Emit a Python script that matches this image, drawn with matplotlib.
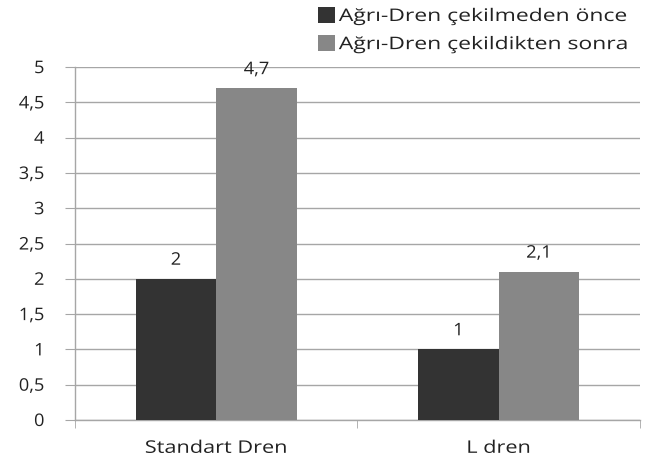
import numpy as np
import matplotlib.pyplot as plt
from matplotlib.ticker import FixedLocator
from matplotlib.patheffects import AbstractPathEffect
from matplotlib.transforms import Affine2D

plt.rcParams['font.family'] = ['Open Sans', 'DejaVu Sans']

categories = ['Standart Dren', 'L dren']
series_names = ['Ağrı-Dren çekilmeden önce', 'Ağrı-Dren çekildikten sonra']
before = [2, 1]
after = [4.7, 2.1]
yticks = [0, 0.5, 1, 1.5, 2, 2.5, 3, 3.5, 4, 4.5, 5]

dark = '#333333'
light = '#878787'
grid_c = '#a6a6a6'
txt_c = '#222222'
FS = 12.5


class Wide(AbstractPathEffect):
    """Draw text glyphs stretched horizontally around an anchor edge."""

    def __init__(self, sx=1.3, ha='center'):
        super().__init__()
        self.sx = sx
        self.k = {'left': 0.0, 'center': 0.5, 'right': 1.0}[ha]

    def draw_path(self, renderer, gc, tpath, affine, rgbFace=None):
        ext = tpath.get_extents()
        px = ext.x0 + self.k * (ext.x1 - ext.x0)
        t = Affine2D().translate(-px, 0).scale(self.sx, 1).translate(px, 0) + affine
        renderer.draw_path(gc, tpath, t, rgbFace)


fig = plt.figure(figsize=(6.49, 4.60), dpi=100)
ax = fig.add_axes([0.1156, 0.0848, 0.8704, 0.7672])

x = np.arange(len(categories))
w = 0.285
b1 = ax.bar(x - w / 2, before, w, color=dark, label=series_names[0], zorder=3)
b2 = ax.bar(x + w / 2, after, w, color=light, label=series_names[1], zorder=3)


def fmt(v):
    return f'{v:g}'.replace('.', ',')


for bars, vals in ((b1, before), (b2, after)):
    for r, v in zip(bars, vals):
        ax.text(r.get_x() + r.get_width() / 2, v + 0.2, fmt(v),
                ha='center', va='baseline', fontsize=FS, color=txt_c,
                path_effects=[Wide(1.05, 'center')])

ax.set_xlim(-0.5, len(categories) - 0.5)
ax.set_ylim(0, 5)
ax.set_yticks(yticks)
ax.set_yticklabels([fmt(t) for t in yticks])
ax.set_xticks(x)
ax.set_xticklabels(categories)
ax.xaxis.set_minor_locator(FixedLocator([-0.5, 0.5, 1.5]))
ax.tick_params(axis='x', which='major', length=0, pad=15, labelsize=FS,
               labelcolor=txt_c)
ax.tick_params(axis='x', which='minor', length=6, color=grid_c)
ax.tick_params(axis='y', length=7, color=grid_c, pad=15, labelsize=FS,
               labelcolor=txt_c)
for lab in ax.get_xticklabels():
    lab.set_path_effects([Wide(1.25, 'center')])
for lab in ax.get_yticklabels():
    lab.set_path_effects([Wide(1.05, 'right')])

ax.yaxis.grid(True, color=grid_c, linewidth=1.0, zorder=0)
for s in ('top', 'right'):
    ax.spines[s].set_visible(False)
for s in ('left', 'bottom'):
    ax.spines[s].set_color(grid_c)
    ax.spines[s].set_linewidth(1.0)

leg = fig.legend(loc='upper left', bbox_to_anchor=(0.49, 0.982), frameon=False,
                 fontsize=FS, handlelength=1.0, handleheight=1.0,
                 handletextpad=0.2, labelspacing=0.6, borderaxespad=0,
                 borderpad=0)
for t in leg.get_texts():
    t.set_color(txt_c)
    t.set_path_effects([Wide(1.32, 'left')])

fig.savefig('out.png', dpi=100)
